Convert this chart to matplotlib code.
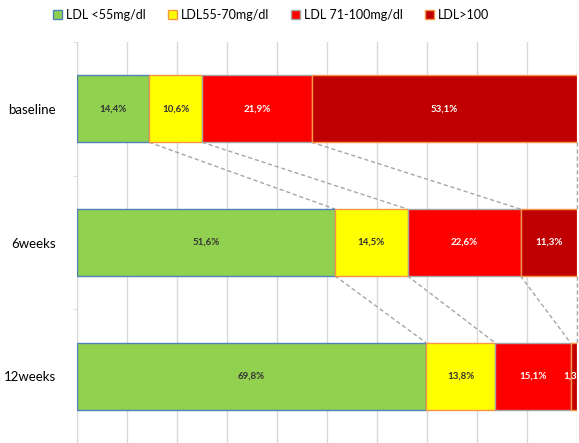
import numpy as np
import matplotlib.pyplot as plt

plt.rcParams['font.family'] = ['Lato', 'DejaVu Sans']

# Data
periods = ["baseline", "6weeks", "12weeks"]
series = ["LDL <55mg/dl", "LDL55-70mg/dl", "LDL 71-100mg/dl", "LDL>100"]
ldl_lt55 = [14.4, 51.6, 69.8]
ldl_55_70 = [10.6, 14.5, 13.8]
ldl_71_100 = [21.9, 22.6, 15.1]
ldl_gt100 = [53.1, 11.3, 1.3]

values = np.array([ldl_lt55, ldl_55_70, ldl_71_100, ldl_gt100])
fills = ["#92d050", "#ffff00", "#ff0000", "#c00000"]
edges = ["#4f81bd", "#f79646", "#a5a5a5", "#f79646"]
text_colors = ["#333333", "#333333", "white", "white"]

fig = plt.figure(figsize=(5.79, 4.43), dpi=100)
ax = fig.add_axes([77 / 579, 0.0, 500 / 579, 1 - 42 / 443])

y = np.arange(len(periods))
bar_h = 0.5
left = np.zeros(len(periods))
for k in range(len(series)):
    ax.barh(y, values[k], left=left, height=bar_h, color=fills[k],
            edgecolor=edges[k], linewidth=1.0, label=series[k], zorder=3)
    for i in range(len(periods)):
        cx = left[i] + values[k][i] / 2
        # last label is clipped by the axes edge, as in the original
        ax.text(cx, y[i], f"{values[k][i]:.1f}%".replace(".", ","),
                ha="center", va="center", fontsize=7, fontweight="bold",
                color=text_colors[k], zorder=4, clip_on=True)
    left = left + values[k]

# dashed series lines between bars
cum = np.cumsum(values, axis=0)
for i in range(len(periods) - 1):
    for k in range(len(series)):
        ax.plot([cum[k][i], cum[k][i + 1]],
                [y[i] + bar_h / 2, y[i + 1] - bar_h / 2],
                color="#a6a6a6", linestyle=(0, (3, 2)), linewidth=1.0,
                zorder=2, clip_on=False)

ax.set_xlim(0, 100)
ax.set_ylim(len(periods) - 0.5, -0.5)
ax.set_xticks(np.arange(0, 101, 10))
ax.tick_params(axis="x", length=0, labelbottom=False)
ax.grid(axis="x", color="#d9d9d9", linewidth=1.0, zorder=0)

ax.set_yticks(y)
ax.set_yticklabels(periods, fontsize=9.5)
ax.tick_params(axis="y", length=0, pad=15)
ax.set_yticks(np.arange(-0.5, len(periods), 1), minor=True)
ax.tick_params(axis="y", which="minor", length=3, color="#d9d9d9")

for s in ["top", "right", "bottom"]:
    ax.spines[s].set_visible(False)
ax.spines["left"].set_color("#d9d9d9")

ax.legend(loc="center", bbox_to_anchor=(271 / 579, 1 - 15 / 443),
          bbox_transform=fig.transFigure, ncol=4, frameon=False,
          fontsize=9, handlelength=0.7, handleheight=0.7, handletextpad=0.3,
          columnspacing=1.8)

fig.savefig("out.png", dpi=100)
